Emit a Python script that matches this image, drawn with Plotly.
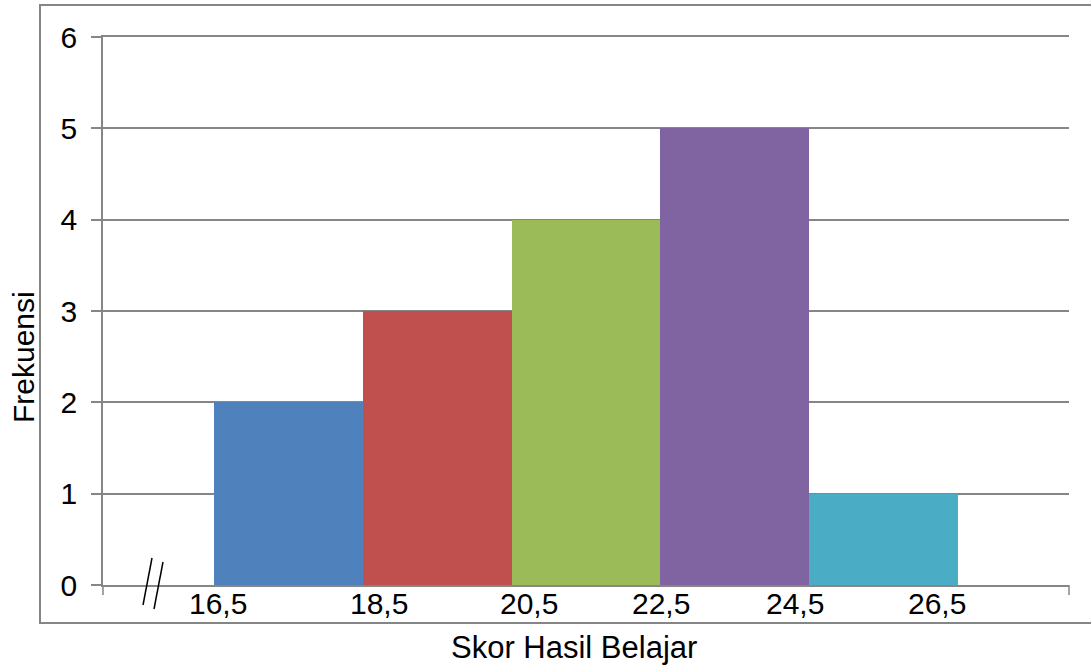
import plotly.graph_objects as go

# Data
bin_edges = [16.5, 18.5, 20.5, 22.5, 24.5, 26.5]
frequencies = [2, 3, 4, 5, 1]
bar_colors = ["#4F81BD", "#C0504D", "#9BBB59", "#8064A2", "#4BACC6"]
tick_labels = ["16,5", "18,5", "20,5", "22,5", "24,5", "26,5"]
label_xshift = [4, 16, 17, 1, -14, -21]

mids = [(bin_edges[i] + bin_edges[i + 1]) / 2 for i in range(len(frequencies))]
widths = [bin_edges[i + 1] - bin_edges[i] for i in range(len(frequencies))]

W, H = 1091, 668
L, R, T, B = 103, 22, 37, 83
pw, ph = W - L - R, H - T - B
GREY = "#868686"
FONT = "Liberation Sans, Arial, sans-serif"
FS = 30


def px(x):
    return (x - L) / pw


def py(y):
    return (H - B - y) / ph


fig = go.Figure()
fig.add_trace(go.Bar(
    x=mids, y=frequencies, width=widths,
    marker=dict(color=bar_colors, line=dict(width=0)),
    showlegend=False, hoverinfo="x+y",
))

annotations = []
for e, lab, dx in zip(bin_edges, tick_labels, label_xshift):
    annotations.append(dict(
        x=e, y=0, xref="x", yref="paper", text=lab, showarrow=False,
        xanchor="center", yanchor="middle", xshift=dx, yshift=-18,
        font=dict(family=FONT, size=FS, color="black"),
    ))
annotations.append(dict(
    x=px(574), y=py(666), xref="paper", yref="paper", text="Skor Hasil Belajar",
    showarrow=False, xanchor="center", yanchor="bottom", borderpad=0,
    font=dict(family=FONT, size=31, color="black"),
))
annotations.append(dict(
    x=px(23), y=py(357), xref="paper", yref="paper", text="Frekuensi",
    showarrow=False, xanchor="center", yanchor="middle", textangle=-90,
    font=dict(family=FONT, size=FS, color="black"),
))

shapes = [
    # outer chart frame
    dict(type="rect", xref="paper", yref="paper",
         x0=px(40), x1=px(1100), y0=py(623), y1=py(5),
         line=dict(color=GREY, width=2), layer="below"),
    # end ticks on the x axis
    dict(type="line", xref="paper", yref="paper",
         x0=0, x1=0, y0=0, y1=py(595), line=dict(color=GREY, width=1.5)),
    dict(type="line", xref="paper", yref="paper",
         x0=1, x1=1, y0=0, y1=py(595), line=dict(color=GREY, width=1.5)),
    # axis break marks
    dict(type="line", xref="paper", yref="paper",
         x0=px(143), x1=px(152), y0=py(605), y1=py(558), line=dict(color="black", width=1.5)),
    dict(type="line", xref="paper", yref="paper",
         x0=px(154), x1=px(163), y0=py(609), y1=py(562), line=dict(color="black", width=1.5)),
]

fig.update_layout(
    width=W, height=H,
    margin=dict(l=L, r=R, t=T, b=B, pad=0),
    plot_bgcolor="white", paper_bgcolor="white",
    bargap=0,
    font=dict(family=FONT, size=FS, color="black"),
    xaxis=dict(range=[15, 28], showgrid=False, zeroline=False,
               showline=True, linecolor=GREY, linewidth=1.5, mirror=True,
               ticks="", showticklabels=False),
    yaxis=dict(range=[0, 6], dtick=1, showgrid=True, gridcolor=GREY, gridwidth=1.5,
               zeroline=False, showline=True, linecolor=GREY, linewidth=1.5,
               ticks="outside", ticklen=10, tickcolor=GREY, tickwidth=1.5,
               ticklabelstandoff=8,
               tickfont=dict(family=FONT, size=FS, color="black")),
    annotations=annotations,
    shapes=shapes,
)

fig.write_html(
    "out.html",
    config={"displayModeBar": False},
    post_script="document.body.style.margin='0';document.body.style.overflow='hidden';",
)
